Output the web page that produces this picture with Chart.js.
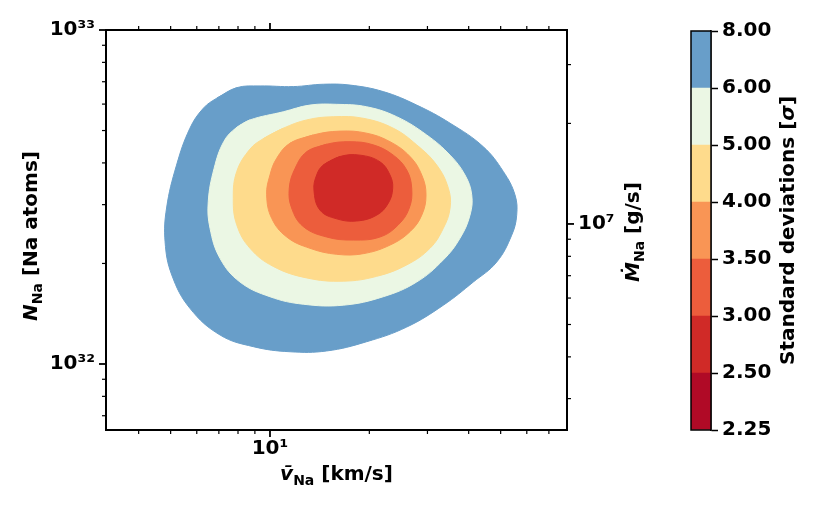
<!DOCTYPE html>
<html><head><meta charset="utf-8">
<script src="https://cdn.jsdelivr.net/npm/chart.js@4/dist/chart.umd.min.js"></script>
<style>
html,body{margin:0;padding:0;background:#fff;}
#wrap{position:relative;width:830px;height:509px;overflow:hidden;}
#main{position:absolute;left:0;top:0;width:830px;height:509px;}
#cbar{position:absolute;left:660px;top:0;width:170px;height:509px;}
</style></head><body>
<div id="wrap"><canvas id="main" width="830" height="509"></canvas><canvas id="cbar" width="170" height="509"></canvas></div>
<script>
// ---- contour boundaries: [v (km/s), N (atoms)] ----
const sigma8 = [[6.90,6.25e32],[7.93,6.72e32],[9.33,6.80e32],[11.77,6.77e32],[14.50,6.88e32],[17.48,6.84e32],[22.04,6.54e32],[27.83,5.96e32],[35.13,5.26e32],[44.31,4.47e32],[50.93,3.77e32],[55.25,3.21e32],[55.92,2.79e32],[54.0,2.43e32],[48.64,2.02e32],[41.32,1.76e32],[33.52,1.50e32],[25.96,1.29e32],[19.63,1.166e32],[14.85,1.094e32],[11.50,1.088e32],[8.90,1.127e32],[7.06,1.221e32],[5.72,1.468e32],[5.04,1.847e32],[4.81,2.32e32],[4.86,2.93e32],[5.21,3.94e32],[5.72,5.08e32],[6.28,5.83e32]];
const sigma6 = [[7.89,5.09e32],[8.70,5.38e32],[10.97,5.69e32],[13.22,5.96e32],[15.93,5.99e32],[19.63,5.89e32],[24.21,5.50e32],[29.84,4.85e32],[35.13,4.22e32],[38.99,3.68e32],[40.86,3.21e32],[40.37,2.79e32],[37.65,2.38e32],[33.52,2.05e32],[27.83,1.76e32],[22.04,1.59e32],[16.68,1.50e32],[12.61,1.51e32],[10.0,1.59e32],[8.11,1.76e32],[7.06,2.07e32],[6.58,2.55e32],[6.50,3.06e32],[6.77,3.85e32],[7.25,4.64e32]];
const sigma5 = [[9.52,4.72e32],[10.97,5.08e32],[12.92,5.38e32],[15.55,5.50e32],[19.18,5.44e32],[23.64,5.08e32],[27.83,4.53e32],[32.01,3.94e32],[34.71,3.36e32],[35.13,2.93e32],[33.52,2.55e32],[30.53,2.22e32],[25.96,1.98e32],[21.05,1.83e32],[16.68,1.77e32],[12.92,1.81e32],[10.23,1.96e32],[8.70,2.22e32],[7.93,2.61e32],[7.74,3.13e32],[7.93,3.77e32],[8.70,4.40e32]];
const sigma4 = [[11.50,4.58e32],[13.53,4.85e32],[16.30,4.98e32],[19.63,4.91e32],[23.10,4.63e32],[26.56,4.18e32],[28.83,3.68e32],[29.70,3.21e32],[28.83,2.79e32],[26.56,2.49e32],[23.10,2.27e32],[19.18,2.14e32],[15.93,2.13e32],[13.22,2.22e32],[11.24,2.40e32],[10.12,2.73e32],[9.77,3.21e32],[10.0,3.68e32],[10.48,4.13e32]];
const sigma35 = [[12.92,4.32e32],[14.85,4.55e32],[17.48,4.63e32],[20.56,4.53e32],[23.64,4.22e32],[25.96,3.81e32],[26.88,3.36e32],[26.43,2.93e32],[24.48,2.61e32],[21.54,2.40e32],[17.88,2.35e32],[14.85,2.40e32],[12.61,2.58e32],[11.63,2.93e32],[11.44,3.36e32],[11.91,3.85e32]];
const sigma3 = [[14.50,3.94e32],[16.30,4.18e32],[18.74,4.22e32],[21.54,4.03e32],[23.10,3.68e32],[23.54,3.36e32],[22.83,3.03e32],[21.05,2.79e32],[18.31,2.68e32],[15.93,2.72e32],[14.17,2.89e32],[13.59,3.32e32],[13.85,3.68e32]];

// ---- colour levels ----
const levelLabels = ['2.25','2.50','3.00','3.50','4.00','5.00','6.00','8.00'];
const levelColors = ['#b00a26','#d02a27','#ec5d3c','#f99555','#fedb8c','#ebf7e4','#689ec9'];

// ---- axes ----
const xRange = [3.185, 79.43];
const yRange = [6.344e31, 1e33];
const y2Range = [2.416e6, 3.808e7];
const xMajor = [10], xMajorLabels = ['10¹'];
const xMinor = [4,5,6,7,8,9,20,30,40,50,60,70];
const yMajor = [1e32, 1e33], yMajorLabels = ['10³²','10³³'];
const yMinor = [7e31,8e31,9e31,2e32,3e32,4e32,5e32,6e32,7e32,8e32,9e32];
const y2Major = [1e7], y2MajorLabels = ['10⁷'];
const y2Minor = [3e6,4e6,5e6,6e6,7e6,8e6,9e6,2e7,3e7];

const FF = '"DejaVu Sans", sans-serif';
const F_MAIN = 'bold 20px ' + FF;
const F_IT = 'italic bold 20px ' + FF;
const F_SUB = 'bold 14px ' + FF;

function closed(arr){ const pts = arr.map(([x,y])=>({x,y})); return pts.concat([pts[0], pts[1]]); }

const contours = [
  {pts: sigma3, color: levelColors[1]},
  {pts: sigma35, color: levelColors[2]},
  {pts: sigma4, color: levelColors[3]},
  {pts: sigma5, color: levelColors[4]},
  {pts: sigma6, color: levelColors[5]},
  {pts: sigma8, color: levelColors[6]}
];

function drawRich(ctx, parts, cx, cy, rot, base){
  ctx.save();
  ctx.translate(cx, cy);
  ctx.rotate(rot);
  let total = 0;
  parts.forEach(p=>{ ctx.font = p.font; p.w = ctx.measureText(p.text).width; total += p.w; });
  let x = -total/2;
  ctx.textAlign = 'left'; ctx.textBaseline = 'alphabetic'; ctx.fillStyle = '#000';
  parts.forEach(p=>{ ctx.font = p.font; ctx.fillText(p.text, x, base + (p.dy||0)); x += p.w; });
  ctx.restore();
}

const framePlugin = {
  id: 'frame',
  afterDraw(chart){
    const {ctx, chartArea:a, scales} = chart;
    ctx.save();
    ctx.strokeStyle = '#000';
    const seg = (x1,y1,x2,y2,w)=>{ ctx.lineWidth=w; ctx.beginPath(); ctx.moveTo(x1,y1); ctx.lineTo(x2,y2); ctx.stroke(); };
    xMajor.forEach(v=>{ const p=scales.x.getPixelForValue(v); seg(p,a.bottom,p,a.bottom+7,1.8); seg(p,a.top,p,a.top-7,1.8); });
    xMinor.forEach(v=>{ const p=scales.x.getPixelForValue(v); seg(p,a.bottom,p,a.bottom+4,1.2); seg(p,a.top,p,a.top-4,1.2); });
    yMajor.forEach(v=>{ const p=scales.y.getPixelForValue(v); seg(a.left,p,a.left-7,p,1.8); });
    yMinor.forEach(v=>{ const p=scales.y.getPixelForValue(v); seg(a.left,p,a.left-4,p,1.2); });
    y2Major.forEach(v=>{ const p=scales.y2.getPixelForValue(v); seg(a.right,p,a.right+7,p,1.8); });
    y2Minor.forEach(v=>{ const p=scales.y2.getPixelForValue(v); seg(a.right,p,a.right+4,p,1.2); });
    ctx.lineWidth = 2;
    ctx.strokeRect(a.left, a.top, a.right-a.left, a.bottom-a.top);
    ctx.restore();
    const cx = (a.left+a.right)/2, cy = (a.top+a.bottom)/2;
    drawRich(ctx, [{text:'N',font:F_IT},{text:'Na',font:F_SUB,dy:5},{text:' [Na atoms]',font:F_MAIN}], 37, cy+6, -Math.PI/2, 0);
    drawRich(ctx, [{text:'v\u0304',font:F_IT},{text:'Na',font:F_SUB,dy:5},{text:' [km/s]',font:F_MAIN}], cx, 480, 0, 0);
    drawRich(ctx, [{text:'\u1E40',font:F_IT},{text:'Na',font:F_SUB,dy:5},{text:' [g/s]',font:F_MAIN}], 639, 232, -Math.PI/2, 0);
  }
};

new Chart(document.getElementById('main'), {
  type: 'line',
  data: {
    datasets: contours.map(c=>({
      data: closed(c.pts),
      backgroundColor: c.color,
      borderColor: c.color,
      borderWidth: 1,
      pointRadius: 0,
      tension: 0.4,
      fill: 'shape'
    }))
  },
  options: {
    responsive: false,
    animation: false,
    events: [],
    layout: {padding: {top: 30, left: 0, right: 0, bottom: 0}},
    plugins: {legend: {display: false}, tooltip: {enabled: false}},
    scales: {
      x: {
        type: 'logarithmic', position: 'bottom', min: xRange[0], max: xRange[1], bounds: 'data',
        grid: {display: false, drawTicks: false}, border: {display: false},
        afterBuildTicks: s=>{ s.ticks = xMajor.map(v=>({value:v})); },
        afterFit: s=>{ s.height = 79; },
        ticks: {autoSkip: false, maxRotation: 0, padding: 7, color: '#000', font: {family: FF, size: 20, weight: 'bold'}, callback: (v,i)=>xMajorLabels[i]}
      },
      y: {
        type: 'logarithmic', position: 'left', min: yRange[0], max: yRange[1], bounds: 'data',
        grid: {display: false, drawTicks: false}, border: {display: false},
        afterBuildTicks: s=>{ s.ticks = yMajor.map(v=>({value:v})); },
        afterFit: s=>{ s.width = 106; },
        ticks: {autoSkip: false, padding: 11, color: '#000', font: {family: FF, size: 20, weight: 'bold'}, callback: (v,i)=>yMajorLabels[i]}
      },
      y2: {
        type: 'logarithmic', position: 'right', min: y2Range[0], max: y2Range[1], bounds: 'data',
        grid: {display: false, drawTicks: false}, border: {display: false},
        afterBuildTicks: s=>{ s.ticks = y2Major.map(v=>({value:v})); },
        afterFit: s=>{ s.width = 263; },
        ticks: {autoSkip: false, padding: 11, color: '#000', font: {family: FF, size: 20, weight: 'bold'}, callback: (v,i)=>y2MajorLabels[i]}
      }
    }
  },
  plugins: [framePlugin]
});

const cbPlugin = {
  id: 'cbframe',
  afterDraw(chart){
    const {ctx, chartArea:a} = chart;
    ctx.save();
    ctx.strokeStyle = '#000'; ctx.lineWidth = 1.5;
    ctx.strokeRect(a.left, a.top, a.right-a.left, a.bottom-a.top);
    ctx.restore();
    drawRich(ctx, [{text:'Standard deviations [',font:F_MAIN},{text:'σ',font:F_IT},{text:']',font:F_MAIN}], 133.5, (a.top+a.bottom)/2, -Math.PI/2, 0);
  }
};

new Chart(document.getElementById('cbar'), {
  type: 'bar',
  data: {
    labels: ['σ'],
    datasets: levelColors.map(c=>({data:[1], backgroundColor:c, borderWidth:0, barPercentage:1, categoryPercentage:1}))
  },
  options: {
    responsive: false,
    animation: false,
    events: [],
    layout: {padding: {top: 31, left: 31, right: 0, bottom: 79}},
    plugins: {legend: {display: false}, tooltip: {enabled: false}},
    scales: {
      x: {display: false, stacked: true},
      y: {
        stacked: true, position: 'right', min: 0, max: levelColors.length,
        grid: {drawOnChartArea: false, drawTicks: true, tickLength: 7, tickColor: '#000', tickWidth: 1.5},
        border: {display: true, color: '#000', width: 1.5},
        afterBuildTicks: s=>{ s.ticks = levelLabels.map((l,i)=>({value:i})); },
        afterFit: s=>{ s.width = 119; },
        ticks: {autoSkip: false, padding: 4, color: '#000', font: {family: FF, size: 20, weight: 'bold'}, callback: (v)=>levelLabels[v]}
      }
    }
  },
  plugins: [cbPlugin]
});
</script>
</body></html>
